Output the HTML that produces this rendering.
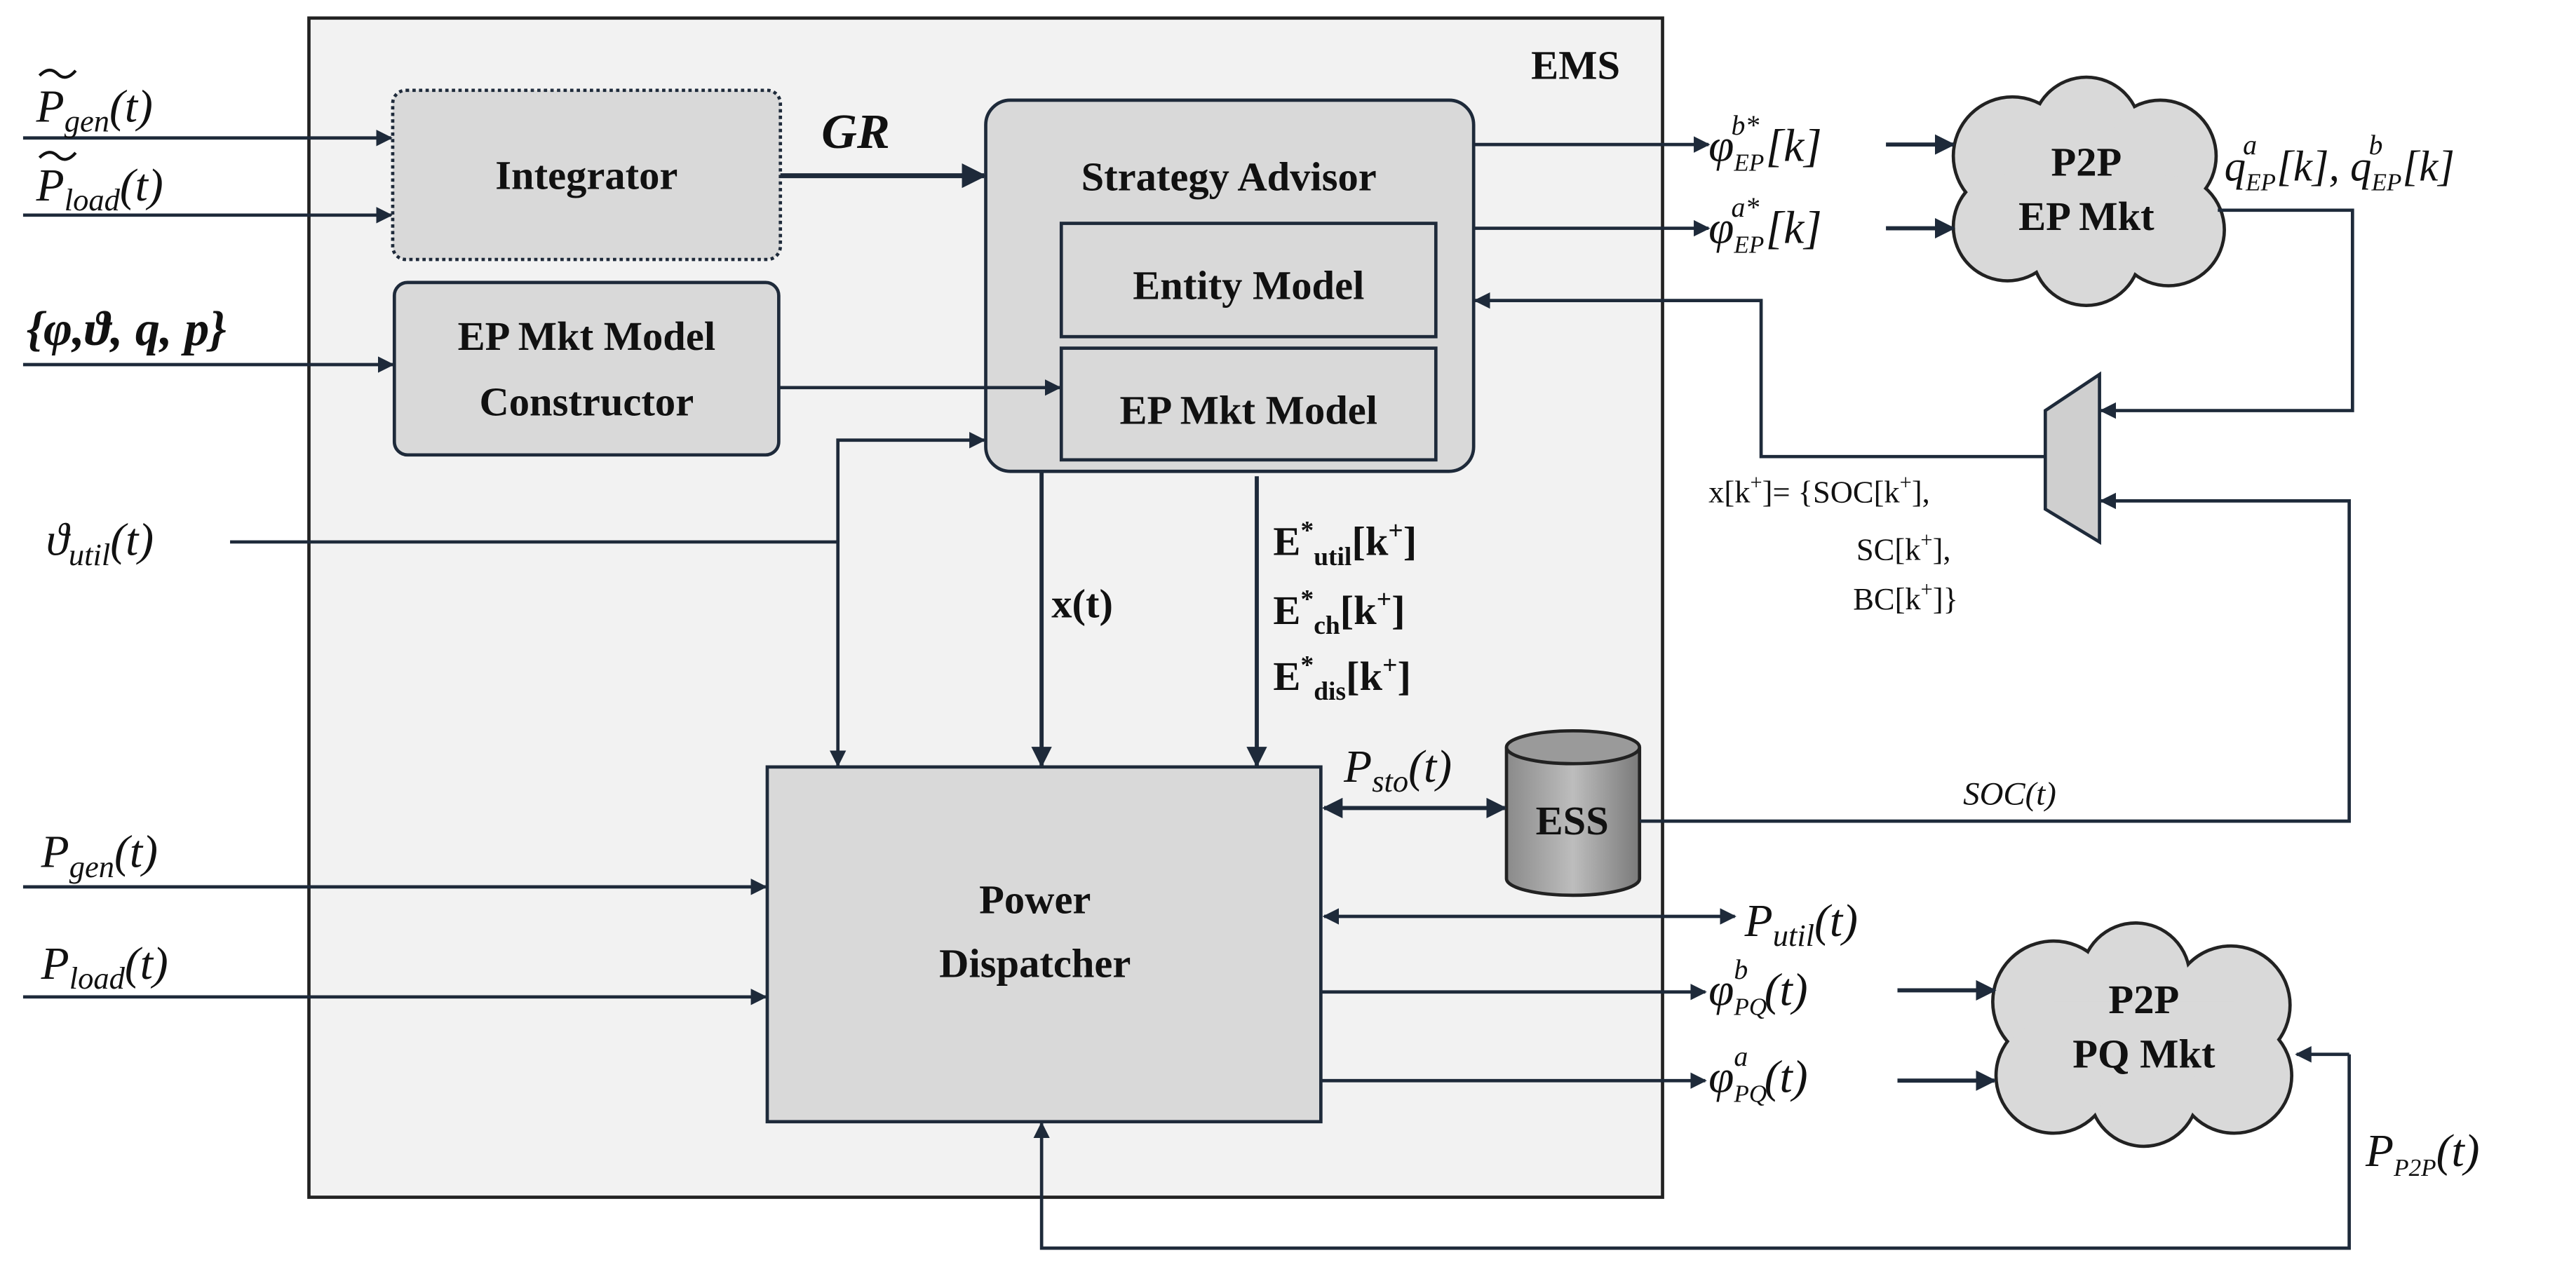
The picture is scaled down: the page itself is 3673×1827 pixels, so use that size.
<!DOCTYPE html>
<html><head><meta charset="utf-8"><style>
html,body{margin:0;padding:0;background:#fff}
svg{display:block}
text{font-family:"Liberation Serif","DejaVu Serif",serif;fill:#111}
.b{font-weight:bold;font-size:25px}
.m{font-style:italic;font-size:28px}
.s{font-size:19px}
</style></head><body>
<svg width="3673" height="1827" viewBox="0 0 1568 780" xmlns="http://www.w3.org/2000/svg">
<defs>
<marker id="a" viewBox="0 0 10 10" refX="9" refY="5" markerWidth="5" markerHeight="5" orient="auto-start-reverse"><path d="M0,0L10,5L0,10z" fill="#1e2a3a"/></marker>
<linearGradient id="g" x1="0" x2="1"><stop offset="0" stop-color="#8a8a8a"/><stop offset=".5" stop-color="#bdbdbd"/><stop offset="1" stop-color="#7a7a7a"/></linearGradient>
</defs>
<rect width="1568" height="780" fill="#fff"/>
<rect x="188" y="11" width="824" height="718" fill="#f2f2f2" stroke="#222" stroke-width="2"/>
<text x="932" y="48" class="b">EMS</text>
<g stroke="#1e2a3a" stroke-width="2" fill="none">
<rect x="239" y="55" width="236" height="103" rx="8" fill="#d9d9d9" stroke-dasharray="2,2"/>
<rect x="240" y="172" width="234" height="105" rx="8" fill="#d9d9d9"/>
<rect x="600" y="61" width="297" height="226" rx="15" fill="#d9d9d9"/>
<rect x="646" y="136" width="228" height="69" fill="#d9d9d9"/>
<rect x="646" y="212" width="228" height="68" fill="#d9d9d9"/>
<rect x="467" y="467" width="337" height="216" fill="#d9d9d9"/>
<polygon points="1245,250 1278,228 1278,330 1245,310" fill="#cfcfcf"/>
</g>
<text x="357" y="115" class="b" text-anchor="middle">Integrator</text>
<text x="357" y="213" class="b" text-anchor="middle">EP Mkt Model</text>
<text x="357" y="253" class="b" text-anchor="middle">Constructor</text>
<text x="748" y="116" class="b" text-anchor="middle">Strategy Advisor</text>
<text x="760" y="182" class="b" text-anchor="middle">Entity Model</text>
<text x="760" y="258" class="b" text-anchor="middle">EP Mkt Model</text>
<text x="630" y="556" class="b" text-anchor="middle">Power</text>
<text x="630" y="595" class="b" text-anchor="middle">Dispatcher</text>
<path d="M917,455 V535 A40,10 0 0 0 998,535 V455" fill="url(#g)" stroke="#222" stroke-width="2"/>
<ellipse cx="957.5" cy="455" rx="40.5" ry="10" fill="#9a9a9a" stroke="#222" stroke-width="2"/>
<text x="957" y="508" class="b" text-anchor="middle">ESS</text>
<g stroke="#222" stroke-width="4" fill="#d9d9d9">
<g><circle cx="1225" cy="95" r="35"/><circle cx="1270" cy="80" r="32"/><circle cx="1315" cy="95" r="33"/><circle cx="1320" cy="140" r="33"/><circle cx="1270" cy="153" r="32"/><circle cx="1222" cy="138" r="32"/></g>
<g><circle cx="1250" cy="610" r="36"/><circle cx="1300" cy="595" r="32"/><circle cx="1358" cy="612" r="35"/><circle cx="1360" cy="655" r="34"/><circle cx="1305" cy="665" r="32"/><circle cx="1250" cy="655" r="34"/></g>
</g>
<g fill="#d9d9d9">
<circle cx="1225" cy="95" r="35"/><circle cx="1270" cy="80" r="32"/><circle cx="1315" cy="95" r="33"/><circle cx="1320" cy="140" r="33"/><circle cx="1270" cy="153" r="32"/><circle cx="1222" cy="138" r="32"/><rect x="1225" y="95" width="90" height="50"/>
<circle cx="1250" cy="610" r="36"/><circle cx="1300" cy="595" r="32"/><circle cx="1358" cy="612" r="35"/><circle cx="1360" cy="655" r="34"/><circle cx="1305" cy="665" r="32"/><circle cx="1250" cy="655" r="34"/><rect x="1250" y="610" width="110" height="45"/>
</g>
<text x="1270" y="107" class="b" text-anchor="middle">P2P</text>
<text x="1270" y="140" class="b" text-anchor="middle">EP Mkt</text>
<text x="1305" y="617" class="b" text-anchor="middle">P2P</text>
<text x="1305" y="650" class="b" text-anchor="middle">PQ Mkt</text>
<g stroke="#1e2a3a" stroke-width="2" fill="none" marker-end="url(#a)">
<path d="M14,84H238"/>
<path d="M14,131H238"/>
<path d="M14,222H239"/>
<path d="M140,330H510V466"/>
<path d="M510,330V268H599"/>
<path d="M475,107H599" stroke-width="3"/>
<path d="M474,236H645"/>
<path d="M634,287V466" stroke-width="2.5"/>
<path d="M765,290V466" stroke-width="2.5"/>
<path d="M806,492H916" marker-start="url(#a)" stroke-width="2.5"/>
<path d="M998,500H1430V305H1279"/>
<path d="M897,88H1040"/>
<path d="M1148,88H1189" stroke-width="2.5"/>
<path d="M897,139H1040"/>
<path d="M1148,139H1189" stroke-width="2.5"/>
<path d="M1350,128H1432V250H1279"/>
<path d="M1245,278H1072V183H898"/>
<path d="M14,540H466"/>
<path d="M14,607H466"/>
<path d="M806,558H1056" marker-start="url(#a)"/>
<path d="M804,604H1038"/>
<path d="M1155,603H1214" stroke-width="2.5"/>
<path d="M804,658H1038"/>
<path d="M1155,658H1214" stroke-width="2.5"/>
<path d="M1430,642H1398"/>
<path d="M1430,642V760H634V684"/>
</g>
<g stroke="#111" stroke-width="1.8" fill="none">
<path d="M24,46 Q30,40 35,45 T46,43"/>
<path d="M24,96 Q30,90 35,95 T46,93"/>
</g>
<text x="22" y="74" class="m">P<tspan font-size="19" dy="6">gen</tspan><tspan dy="-6">(t)</tspan></text>
<text x="22" y="122" class="m">P<tspan font-size="19" dy="6">load</tspan><tspan dy="-6">(t)</tspan></text>
<text x="16" y="210" font-size="30" font-weight="bold" font-style="italic">{φ,ϑ, q, p}</text>
<text x="28" y="338" class="m">ϑ<tspan font-size="19" dy="6">util</tspan><tspan dy="-6">(t)</tspan></text>
<text x="500" y="90" font-size="30" font-weight="bold" font-style="italic">GR</text>
<text x="640" y="376" class="b">x(t)</text>
<text x="775" y="338" class="b">E<tspan font-size="16" dy="-10">*</tspan><tspan font-size="16" dy="16">util</tspan><tspan dy="-6">[k</tspan><tspan font-size="16" dy="-10">+</tspan><tspan dy="10">]</tspan></text>
<text x="775" y="380" class="b">E<tspan font-size="16" dy="-10">*</tspan><tspan font-size="16" dy="16">ch</tspan><tspan dy="-6">[k</tspan><tspan font-size="16" dy="-10">+</tspan><tspan dy="10">]</tspan></text>
<text x="775" y="420" class="b">E<tspan font-size="16" dy="-10">*</tspan><tspan font-size="16" dy="16">dis</tspan><tspan dy="-6">[k</tspan><tspan font-size="16" dy="-10">+</tspan><tspan dy="10">]</tspan></text>
<text x="818" y="476" class="m">P<tspan font-size="19" dy="6">sto</tspan><tspan dy="-6">(t)</tspan></text>
<text x="1195" y="490" font-size="20" font-style="italic" font-family="Liberation Sans">SOC(t)</text>
<text x="1040" y="306" class="s">x[k<tspan font-size="13" dy="-8">+</tspan><tspan dy="8">]= {SOC[k</tspan><tspan font-size="13" dy="-8">+</tspan><tspan dy="8">],</tspan></text>
<text x="1130" y="341" class="s">SC[k<tspan font-size="13" dy="-8">+</tspan><tspan dy="8">],</tspan></text>
<text x="1128" y="371" class="s">BC[k<tspan font-size="13" dy="-8">+</tspan><tspan dy="8">]}</tspan></text>
<text x="1040" y="98" class="m">φ<tspan font-size="15" dy="6">EP</tspan><tspan font-size="17" dx="-20" dy="-22">b*</tspan><tspan dx="4" dy="16">[k]</tspan></text>
<text x="1040" y="148" class="m">φ<tspan font-size="15" dy="6">EP</tspan><tspan font-size="17" dx="-20" dy="-22">a*</tspan><tspan dx="4" dy="16">[k]</tspan></text>
<text x="1354" y="110" font-size="26" font-style="italic">q<tspan font-size="15" dy="6">EP</tspan><tspan font-size="17" dx="-20" dy="-22">a</tspan><tspan dx="12" dy="16">[k], q</tspan><tspan font-size="15" dy="6">EP</tspan><tspan font-size="17" dx="-20" dy="-22">b</tspan><tspan dx="12" dy="16">[k]</tspan></text>
<text x="25" y="528" class="m">P<tspan font-size="19" dy="6">gen</tspan><tspan dy="-6">(t)</tspan></text>
<text x="25" y="596" class="m">P<tspan font-size="19" dy="6">load</tspan><tspan dy="-6">(t)</tspan></text>
<text x="1062" y="570" class="m">P<tspan font-size="19" dy="6">util</tspan><tspan dy="-6">(t)</tspan></text>
<text x="1040" y="612" class="m">φ<tspan font-size="15" dy="6">PQ</tspan><tspan font-size="17" dx="-20" dy="-22">b</tspan><tspan dx="10" dy="16">(t)</tspan></text>
<text x="1040" y="665" class="m">φ<tspan font-size="15" dy="6">PQ</tspan><tspan font-size="17" dx="-20" dy="-22">a</tspan><tspan dx="10" dy="16">(t)</tspan></text>
<text x="1440" y="710" class="m">P<tspan font-size="15" dy="6">P2P</tspan><tspan dy="-6">(t)</tspan></text>
</svg>
</body></html>
